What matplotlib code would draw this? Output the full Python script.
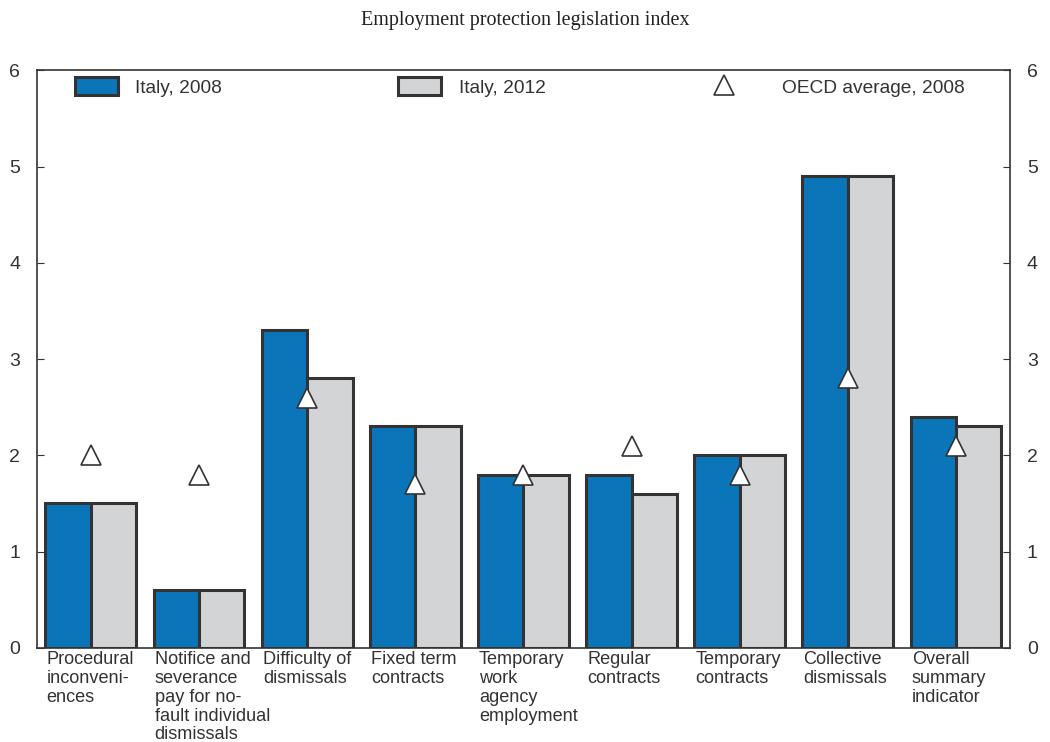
import numpy as np
import matplotlib.pyplot as plt
import matplotlib.transforms as mtransforms
from matplotlib.legend_handler import HandlerLine2D

plt.rcParams['font.family'] = ['Liberation Sans', 'DejaVu Sans']

categories = [
    "Procedural\ninconveni-\nences",
    "Notifice and\nseverance\npay for no-\nfault individual\ndismissals",
    "Difficulty of\ndismissals",
    "Fixed term\ncontracts",
    "Temporary\nwork\nagency\nemployment",
    "Regular\ncontracts",
    "Temporary\ncontracts",
    "Collective\ndismissals",
    "Overall\nsummary\nindicator",
]
italy_2008 = [1.5, 0.6, 3.3, 2.3, 1.8, 1.8, 2.0, 4.9, 2.4]
italy_2012 = [1.5, 0.6, 2.8, 2.3, 1.8, 1.6, 2.0, 4.9, 2.3]
oecd_2008 = [2.0, 1.8, 2.6, 1.7, 1.8, 2.1, 1.8, 2.8, 2.1]

blue = '#0a75b8'
grey = '#d3d4d6'
edge = '#333333'
textc = '#333333'


# marker sits at the left of the legend handle instead of the middle
# (the handler marks the midpoint of xdata, so shift the span left)
class LeftMarker(HandlerLine2D):
    def get_xdata(self, legend, xdescent, ydescent, width, height, fontsize):
        xdata = np.array([-xdescent - 0.9 * width, -xdescent + width])
        return xdata, np.array([-xdescent + 0.05 * width])


fig = plt.figure(figsize=(10.5, 7.42), dpi=100)
ax = fig.add_axes([0.035, 0.127, 0.927, 0.778])

x = np.arange(len(categories))
w = 0.42
b1 = ax.bar(x - w / 2, italy_2008, w, color=blue, edgecolor=edge, linewidth=2.2,
            label='Italy, 2008', zorder=2)
b2 = ax.bar(x + w / 2, italy_2012, w, color=grey, edgecolor=edge, linewidth=2.2,
            label='Italy, 2012', zorder=2)
l1, = ax.plot(x, oecd_2008, linestyle='none', marker='^', markersize=15,
              markerfacecolor='white', markeredgecolor=edge, markeredgewidth=1.2,
              label='OECD average, 2008', zorder=3)

ax.set_xlim(-0.5, len(categories) - 0.5)
ax.set_ylim(0, 6)
ax.set_yticks(range(7))
ax.tick_params(axis='y', direction='in', length=5, labelsize=14,
               colors=textc, labelcolor=textc, left=True, right=True,
               labelleft=True, labelright=True, pad=12)
ax.tick_params(axis='x', bottom=False, labelbottom=False)
for s in ax.spines.values():
    s.set_color(edge)
    s.set_linewidth(1.2)

# category labels, left aligned under each group
trans = mtransforms.blended_transform_factory(ax.transData, ax.transAxes)
for i, lab in enumerate(categories):
    ax.text(i - w + 0.01, -0.005, lab, transform=trans, ha='left', va='top',
            fontsize=13.1, color=textc, linespacing=1.15)

ax.legend(handles=[b1, b2, l1], ncol=3, loc='upper left',
          bbox_to_anchor=(0.039, 0.988), frameon=False,
          fontsize=13.8, handlelength=2.25, handleheight=1.05,
          handletextpad=0.9, columnspacing=9.2, borderaxespad=0.0,
          borderpad=0.0, labelcolor=textc, handler_map={l1: LeftMarker()})

fig.text(0.5, 0.972, 'Employment protection legislation index',
         ha='center', va='center', fontsize=14.5, color='#222222',
         family=['Liberation Serif', 'DejaVu Serif'])

fig.savefig('out.png', dpi=100)
